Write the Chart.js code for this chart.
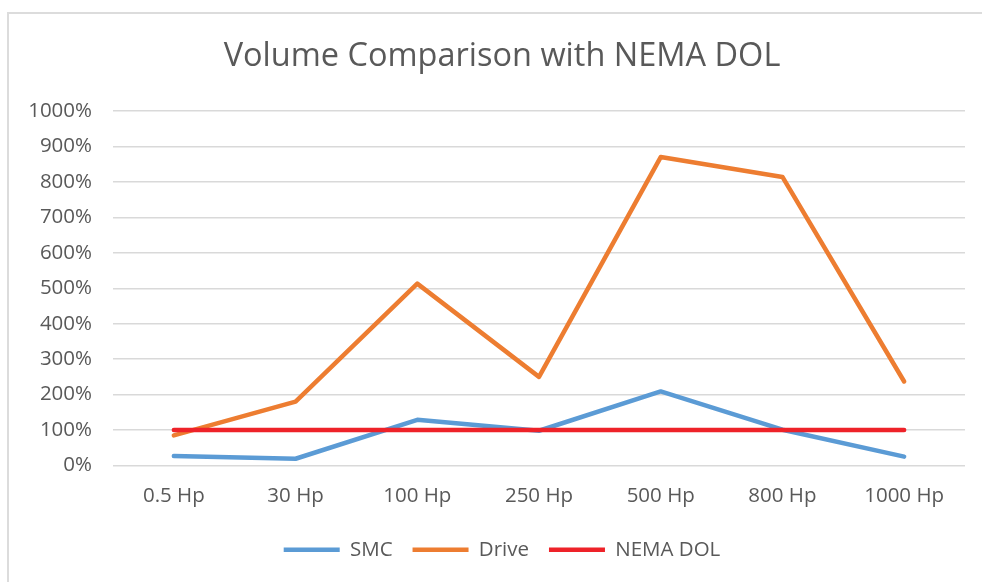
<!DOCTYPE html>
<html>
<head>
<meta charset="utf-8">
<script src="https://cdn.jsdelivr.net/npm/chart.js@4"></script>
<style>
    html, body { margin: 0; padding: 0; background: #fff; overflow: hidden; }
    #khung { position: absolute; left: 0; top: 0; width: 982px; height: 582px; }
    #vien { position: absolute; left: 7px; top: 12px; width: 1000px; height: 600px; border: 2px solid #dcdcdc; }
    canvas { position: absolute; left: 0; top: 0; }
</style>
</head>
<body>
<div id="khung">
    <div id="vien"></div>
    <canvas id="bieu-do" width="982" height="582"></canvas>
</div>
<script>
// du lieu doc tu hinh (don vi: %)
const nhanCongSuat = ["0.5 Hp", "30 Hp", "100 Hp", "250 Hp", "500 Hp", "800 Hp", "1000 Hp"];
const duLieuSMC    = [27, 19, 129, 98, 209, 101, 25];
const duLieuDrive  = [85, 180, 513, 250, 870, 814, 237];
const duLieuNEMA   = [100, 100, 100, 100, 100, 100, 100];
const mocTrucY     = [0, 100, 200, 300, 400, 500, 600, 700, 800, 900, 1000];

const mauChu = "#595959";
const phongChu = "'Open Sans', sans-serif";
const leTrai = 22; // le trai cua bo cuc

function taoDuong(ten, duLieu, mau, thuTu) {
    return {
        label: ten,
        data: duLieu,
        borderColor: mau,
        backgroundColor: mau,
        borderWidth: 4.5,
        borderCapStyle: "round",
        borderJoinStyle: "round",
        pointRadius: 0,
        pointHoverRadius: 0,
        tension: 0,
        order: thuTu
    };
}

const ctx = document.getElementById("bieu-do").getContext("2d");
new Chart(ctx, {
    type: "line",
    data: {
        labels: nhanCongSuat,
        datasets: [
            taoDuong("SMC", duLieuSMC, "#5B9BD5", 3),
            taoDuong("Drive", duLieuDrive, "#ED7D31", 2),
            taoDuong("NEMA DOL", duLieuNEMA, "#EE2229", 1)
        ]
    },
    options: {
        responsive: false,
        animation: false,
        layout: { padding: { left: leTrai, right: 0, top: 0, bottom: 12 } },
        plugins: {
            title: {
                display: true,
                text: "Volume Comparison with NEMA DOL",
                color: mauChu,
                font: { family: phongChu, size: 32.5, weight: "normal" },
                padding: { top: 37, bottom: 35 }
            },
            legend: {
                position: "bottom",
                labels: {
                    color: mauChu,
                    font: { family: phongChu, size: 20.5 },
                    usePointStyle: true,
                    pointStyle: "line",
                    pointStyleWidth: 56,
                    padding: 20,
                    sort: (a, b) => a.datasetIndex - b.datasetIndex
                }
            },
            tooltip: { enabled: false }
        },
        scales: {
            x: {
                offset: true,
                grid: { display: false, drawTicks: false },
                border: { display: false },
                ticks: {
                    color: mauChu,
                    font: { family: phongChu, size: 20.5 },
                    padding: 18,
                    maxRotation: 0
                },
                afterFit: (truc) => { truc.height = 54; }
            },
            y: {
                min: 0,
                max: 1000,
                afterBuildTicks: (truc) => { truc.ticks = mocTrucY.map(v => ({ value: v })); },
                grid: { color: "#d9d9d9", lineWidth: 1.5, drawTicks: false },
                border: { display: false },
                ticks: {
                    color: mauChu,
                    font: { family: phongChu, size: 20.5 },
                    padding: 21,
                    callback: (v) => v + "%"
                },
                afterFit: (truc) => { truc.width = 113 - leTrai; }
            },
            // truc phai an, chi de chua khoang trong ben phai
            yPhai: {
                position: "right",
                grid: { display: false, drawOnChartArea: false, drawTicks: false },
                border: { display: false },
                ticks: { display: false },
                afterFit: (truc) => { truc.width = 17; }
            }
        }
    }
});
</script>
</body>
</html>
